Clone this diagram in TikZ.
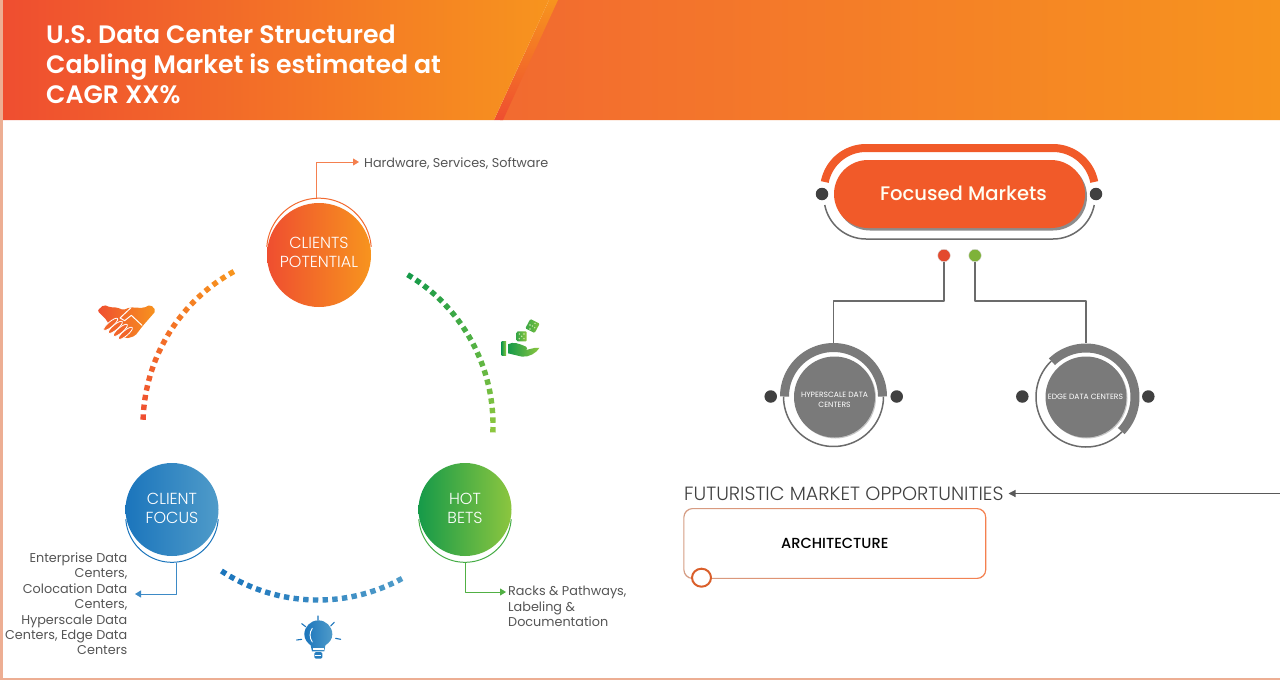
\documentclass[tikz,border=0pt]{standalone}
\usepackage{fontspec}
\setmainfont{Poppins}
\newfontfamily\plight{Poppins Light}
\newfontfamily\pmed{Poppins Medium}
\newfontfamily\psemi{Poppins SemiBold}
\usetikzlibrary{arrows.meta,shapes.geometric}
\definecolor{cRed}{HTML}{EF4E30}
\definecolor{cOr}{HTML}{F7941E}
\definecolor{cOrB}{HTML}{F26A30}
\definecolor{cPill}{HTML}{F15A29}
\definecolor{cBlueA}{HTML}{1B75BC}
\definecolor{cBlueB}{HTML}{4F9BC9}
\definecolor{cGrA}{HTML}{169A49}
\definecolor{cGrB}{HTML}{8CC63F}
\definecolor{cTxt}{HTML}{555555}
\definecolor{cGrey}{HTML}{7A7A7A}
\definecolor{cLine}{HTML}{6B6B6B}
\definecolor{cDot}{HTML}{404040}
\definecolor{cBord}{HTML}{EDAE93}
\tikzset{
  bigc/.style={circle,inner sep=0pt},
  bigt/.style={inner sep=0pt,text=white,align=center,font=\plight\fontsize{16}{19}\selectfont},
  lbl/.style={inner sep=0pt,text=cTxt,font=\fontsize{12.8}{15.4}\selectfont},
  ghost/.style={circle,inner sep=0pt,draw=none},
  knob/.style={circle,inner sep=0pt,minimum size=12.5pt,fill=cDot},
  seg/.style={circle,inner sep=0pt,minimum size=81pt,fill=cGrey},
  segt/.style={inner sep=0pt,text=white,align=center,font=\fontsize{7.6}{9.4}\selectfont},
  conn/.style={line width=1pt,-{Triangle[length=6pt,width=7pt]}},
  gline/.style={cLine,line width=1.5pt},
}
\newcommand{\dotarc}[5]{% start, step, count-1, colA, colB
  \foreach \i in {0,...,#3}{
    \pgfmathsetmacro\tt{#1+(#2)*\i}
    \pgfmathsetmacro\mm{100*\i/#3}
    \fill[#5!\mm!#4,shift={({318+175*cos(\tt)},{425-175*sin(\tt)})},rotate=\tt] (-2.7,-2.7) rectangle (2.7,2.7);
  }}
\begin{document}
\begin{tikzpicture}[x=1pt,y=-1pt,line join=round]
\useasboundingbox (0,0) rectangle (1280,680);
\fill[white] (0,0) rectangle (1280,680);
% page border
\fill[cBord] (0,0) rectangle (3,680);
\fill[cBord] (0,678.3) rectangle (1280,680);
% banner
\shade[left color=cOrB,right color=cOr] (500,120) -- (555,0) -- (1280,0) -- (1280,120) -- cycle;
\shade[bottom color=cRed,top color=cOr] (494,120) -- (549,0) -- (558,0) -- (503,120) -- cycle;
\shade[left color=cRed,right color=cOr] (3,0) -- (549,0) -- (494,120) -- (3,120) -- cycle;
\node[anchor=west,inner sep=0pt,text=white,align=left,font=\psemi\fontsize{25.2}{30}\selectfont] (title) at (46,64) {U.S. Data Center Structured\\Cabling Market is estimated at\\CAGR XX\%};
% dotted arcs
\dotarc{177.4}{-3.21}{18}{cRed}{cOr}
\dotarc{58.3}{-3.15}{19}{cGrA}{cGrB}
\dotarc{237.4}{3.18}{19}{cBlueA}{cBlueB}
% rings behind circles
\node[ghost,minimum size=105pt] (cpr) at (319,250.5) {};
\draw[cOrB,line width=1pt] plot[domain=4:176,samples=50] ({319+52.3*cos(\x)},{250.5-52.3*sin(\x)});
\node[ghost,minimum size=93pt] (cfr) at (172,516) {};
\draw[cBlueA,line width=1pt] plot[domain=184:356,samples=50] ({172+46.3*cos(\x)},{516-46.3*sin(\x)});
\node[ghost,minimum size=93pt] (hbr) at (465,516) {};
\draw[cGrA!60!cGrB,line width=1pt] plot[domain=184:356,samples=50] ({465+46.3*cos(\x)},{516-46.3*sin(\x)});
% main circles
\node[bigc,minimum size=104pt,left color=cRed,right color=cOr] (cp) at (319,255) {};
\node[bigc,minimum size=93pt,left color=cBlueA,right color=cBlueB] (cf) at (172,509.5) {};
\node[bigc,minimum size=93pt,left color=cGrA,right color=cGrB] (hb) at (465,509.5) {};
\node[bigt] (cpt) at (319,252.5) {CLIENTS\\POTENTIAL};
\node[bigt] (cft) at (172,508) {CLIENT\\FOCUS};
\node[bigt] (hbt) at (465,508) {HOT\\BETS};
% labels
\node[lbl,anchor=west] (lhw) at (364,164) {Hardware, Services, Software};
\node[lbl,anchor=north east,align=right] (lcf) at (127.5,552.5) {Enterprise Data\\Centers,\\Colocation Data\\Centers,\\Hyperscale Data\\Centers, Edge Data\\Centers};
\node[lbl,anchor=north west,align=left] (lhb) at (508,586) {Racks \& Pathways,\\Labeling \&\\Documentation};
\coordinate (thw) at (359,162);
\coordinate (tcf) at (135,594);
\coordinate (thb) at (506,592);
\draw[conn,cOrB!85!white] (cpr.93.5) |- (thw);
\draw[conn,cBlueA!85!white] (cfr.-85) |- (tcf);
\draw[conn,cGrA!50!cGrB] (hbr.-90) |- (thb);
% handshake
\begin{scope}[shift={(90,290)},x=0.3333pt,y=-0.3333pt]
\shade[left color=cRed,right color=cOr,rounded corners=2pt] (42,44) -- (22,62) -- (50,90) -- (58,108) -- (108,146) -- (135,138) -- (158,108) -- (198,62) -- (182,44) -- (160,54) -- (120,52) -- (100,60) -- (80,52) -- (60,52) -- cycle;
\draw[white,line width=1pt,line cap=round] (122,54) -- (90,84) -- (104,92) -- (124,76) -- (156,106);
\foreach \a/\b in {62/103,76/112,91/121,106/130}
  \draw[white,fill=cRed!65!cOr,line width=0.8pt,rotate around={40:(\a,\b)}] (\a,\b) ellipse [x radius=9pt,y radius=2.6pt];
\end{scope}
% dice + hand
\begin{scope}[shift={(490,310)},x=0.3333pt,y=-0.3333pt]
\shade[left color=cGrA,right color=cGrB] (35,95) rectangle (48,136);
\shade[left color=cGrA,right color=cGrB] (54,103) .. controls (70,94) and (85,100) .. (108,110) .. controls (116,116) and (108,124) .. (96,120) .. controls (110,124) and (130,110) .. (148,114) .. controls (140,128) and (118,142) .. (96,140) -- (54,130) -- cycle;
\shade[left color=cGrA!70!cGrB,right color=cGrB,rounded corners=1pt] (80,64) -- (110,64) -- (110,94) -- (80,94) -- cycle;
\shade[left color=cGrA!70!cGrB,right color=cGrB!90!cGrA,rounded corners=1pt] (121,27) -- (149,41) -- (134,69) -- (106,55) -- cycle;
\foreach \a/\b in {88/72,102/72,95/79,88/86,102/86,120/45,135/40,127/48,120/57,134/53}
  \fill[white!60!cGrB] (\a,\b) circle (0.8pt);
\end{scope}
% bulb
\begin{scope}[shift={(290,610)},x=0.3333pt,y=-0.3333pt]
\shade[left color=cBlueA,right color=cBlueB] (62,106) .. controls (52,98) and (43,88) .. (43,73) .. controls (43,50) and (62,31) .. (85,31) .. controls (108,31) and (127,50) .. (127,73) .. controls (127,88) and (118,98) .. (106,106) -- (103,124) -- (66,124) -- cycle;
\fill[white] (68,114) rectangle (101,119);
\fill[cBlueA!80!cBlueB,rounded corners=1.5pt] (73,126) rectangle (97,146);
\fill[white] (76,134) rectangle (94,137);
\draw[white,line width=0.9pt,line cap=round] (67,55) .. controls (58,66) and (58,84) .. (67,96);
\draw[cBlueA,line width=1.1pt,line cap=round] (84,18) -- (84,30) (35,41) -- (47,50) (133,37) -- (122,48) (20,90) -- (35,88) (137,85) -- (152,88);
\end{scope}
% focused markets
\draw[cPill,line width=8pt] plot[domain=169:90,samples=30] ({866+42*cos(\x)},{190-42*sin(\x)}) -- plot[domain=90:11,samples=30] ({1053+42*cos(\x)},{190-42*sin(\x)});
\draw[gline] plot[domain=191:270,samples=30] ({866+42*cos(\x)},{197-42*sin(\x)}) -- plot[domain=270:349,samples=30] ({1053+42*cos(\x)},{197-42*sin(\x)});
\fill[black!45,rounded corners=34pt] (836,162.5) rectangle (1087,230.5);
\node[inner sep=0pt,minimum width=251pt,minimum height=68pt,rounded corners=34pt,fill=cPill] (fm) at (959.5,194) {};
\node[inner sep=0pt,text=white!95!yellow,font=\pmed\fontsize{19.6}{22}\selectfont] (fmt) at (963.5,193) {Focused Markets};
\node[knob] (kl) at (822,194) {};
\node[knob] (kr) at (1096,194) {};
\node[circle,inner sep=0pt,minimum size=12.5pt,fill=cRed!95!black,draw=black!15,line width=0.4pt] (dr) at (944,255.5) {};
\node[circle,inner sep=0pt,minimum size=12.5pt,fill=cGrB!90!black,draw=black!15,line width=0.4pt] (dg) at (975,255.5) {};
% segments
\draw[cGrey,line width=9pt] plot[domain=180:0,samples=60] ({833.5+49*cos(\x)},{396.5-49*sin(\x)});
\draw[gline] plot[domain=180:360,samples=60] ({833.5+50*cos(\x)},{396.5-50*sin(\x)});
\draw[cGrey,line width=9pt] plot[domain=134:-44,samples=60] ({1086+49*cos(\x)},{397-49*sin(\x)});
\draw[gline] plot[domain=134:316,samples=60] ({1086+50*cos(\x)},{397-50*sin(\x)});
\fill[black!22] (835.5,398) circle (40.5);
\fill[black!22] (1087,398) circle (40.5);
\node[seg] (hs) at (834.5,397) {};
\node[seg] (ed) at (1086,397) {};
\node[segt] (hst) at (834.5,400) {HYPERSCALE DATA\\CENTERS};
\node[segt] (edt) at (1085.5,397) {EDGE DATA CENTERS};
\node[knob] at (770.7,396.5) (k1) {};
\node[knob] at (896.7,396.5) (k2) {};
\node[knob] at (1022.3,396.5) (k3) {};
\node[knob] at (1148.3,396.5) (k4) {};
\node[ghost,minimum size=107pt] (hsr) at (833.5,396.5) {};
\node[ghost,minimum size=107pt] (edr) at (1086,397) {};
\coordinate (jl) at (944,301);
\coordinate (jr) at (975,301);
\draw[gline] (dr.south) -- (jl) -| (hsr.north);
\draw[gline] (dg.south) -- (jr) -| (edr.north);
% futuristic
\node[inner sep=0pt,anchor=west,text=black!75,font=\plight\fontsize{19.15}{22}\selectfont] (fmo) at (684,494) {FUTURISTIC MARKET OPPORTUNITIES};
\coordinate (rightend) at (1280,493.5);
\coordinate (ftip) at (1008.5,493.5);
\draw[black!65,line width=1.2pt,-{Triangle[length=7pt,width=7pt]}] (rightend) -- (ftip);
\node[inner sep=0pt,draw=none,minimum width=302.5pt,minimum height=70.5pt] (arch) at (834.8,543.5) {};
\shade[left color=cBord!90!black,right color=cOrB!85!white,rounded corners=9pt,even odd rule] (arch.south west) rectangle (arch.north east) [sharp corners] (684.4,509.1) [rounded corners=8.5pt] rectangle (985.2,577.9);
\node[inner sep=0pt,text=black,font=\pmed\fontsize{14.6}{16}\selectfont] (archt) at (834.8,543) {ARCHITECTURE};
\node[ellipse,inner sep=0pt,minimum width=19pt,minimum height=18pt,draw=cOrB!90!black,line width=2pt,fill=white] (archc) at (701.5,577.7) {};
\end{tikzpicture}
\end{document}
